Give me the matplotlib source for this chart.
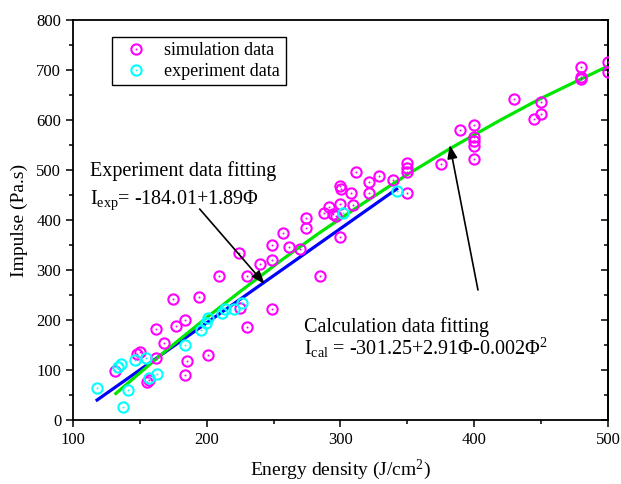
import matplotlib
matplotlib.use("Agg")
import matplotlib.pyplot as plt
from matplotlib.legend_handler import HandlerTuple

plt.rcParams["font.family"] = ["Liberation Serif", "DejaVu Serif"]
plt.rcParams["mathtext.fontset"] = "custom"
plt.rcParams["mathtext.rm"] = "Liberation Serif"
plt.rcParams["mathtext.it"] = "Liberation Serif:italic"

# simulation data (magenta)
sim_x = [131.5, 148, 150, 155, 157, 162, 162, 168, 177, 184, 183.5, 185, 174.5,
         194, 201, 209.5, 224, 225, 230, 230, 240, 249, 249, 249, 257, 261.5,
         270, 274.5, 274.5, 285, 287.5, 291.5, 294.5, 296.5, 299.5, 299.5, 300,
         300.5, 307.5, 309.5, 311.5, 321, 321, 329, 339.5, 350, 350, 350, 350,
         375, 389.5, 400, 400, 400, 400, 400, 429.5, 445, 450, 450, 480, 480,
         480, 500, 500]
sim_y = [98, 133, 137, 77, 80, 125, 183, 155, 188, 200, 90, 118, 242,
         247, 131, 289, 335, 224, 186, 289, 312, 350, 321, 222, 374, 346,
         342, 404, 384, 289, 414, 426, 413, 408, 366, 433, 468,
         462, 454, 430, 495, 476, 455, 488, 479, 514, 503, 495, 455,
         511, 579, 590, 565, 558, 547, 522, 641, 601, 635, 612, 705, 685,
         681, 715, 695]

# experiment data (cyan)
exp_x = [118, 137, 141, 134, 136, 146, 154.5, 157, 163, 183.5, 195.5, 199.5,
         201, 211.5, 214, 220.5, 226.5, 301.5, 342]
exp_y = [64, 27, 60, 106, 112, 121, 124, 85, 92, 151, 181, 195,
         204, 215, 222, 222, 234, 414, 459]

# fitted lines
fit_exp_x = [118, 342]
fit_exp_y = [40, 462]
fit_cal_x = [132, 170, 200, 225, 255, 283, 315, 350, 382, 419, 449, 480, 501]
fit_cal_y = [53, 140, 205, 257, 318, 372, 430, 491, 543, 599, 642, 682, 709]

fig = plt.figure(figsize=(6.21, 4.84), dpi=100)
ax = fig.add_axes([0.1176, 0.1322, 0.8614, 0.8265])

ax.plot(fit_exp_x, fit_exp_y, color="#0000ff", lw=2.3, zorder=2)
ax.plot(fit_cal_x, fit_cal_y, color="#00e600", lw=2.3, zorder=2,
        solid_joinstyle="round")

ms = 7.4
s1, = ax.plot(sim_x, sim_y, ls="none", marker="o", ms=ms, mfc="none",
              mec="#ff00ff", mew=1.5, zorder=3)
s2, = ax.plot(sim_x, sim_y, ls="none", marker="o", ms=1.4, color="#ff00ff",
              mew=0, zorder=3)
e1, = ax.plot(exp_x, exp_y, ls="none", marker="o", ms=ms, mfc="none",
              mec="#00ffff", mew=1.5, zorder=4)
e2, = ax.plot(exp_x, exp_y, ls="none", marker="o", ms=1.4, color="#00ffff",
              mew=0, zorder=4)

ax.set_xlim(100, 500)
ax.set_ylim(0, 800)
ax.set_xticks([100, 200, 300, 400, 500])
ax.set_xticks(range(150, 500, 100), minor=True)
ax.set_yticks(range(0, 801, 100))
ax.set_yticks(range(50, 800, 100), minor=True)
ax.tick_params(axis="both", which="major", labelsize=12, length=5, width=1.1,
               direction="out")
ax.tick_params(axis="both", which="minor", length=3, width=1.1, direction="out")
for sp in ax.spines.values():
    sp.set_linewidth(1.3)

# mirrored right axis with inward ticks
ax2 = ax.secondary_yaxis("right")
ax2.set_yticks(range(0, 801, 100))
ax2.set_yticks(range(50, 800, 100), minor=True)
ax2.tick_params(which="major", direction="in", length=5, width=1.1,
                labelright=False)
ax2.tick_params(which="minor", direction="in", length=3, width=1.1)
ax2.spines["right"].set_linewidth(1.3)

ax.set_xlabel("Energy density (J/cm$^{2}$)", fontsize=14, labelpad=7)
ax.set_ylabel("Impulse (Pa.s)", fontsize=14, labelpad=6)

ax.legend([(s1, s2), (e1, e2)], ["simulation data", "experiment data"],
          handler_map={tuple: HandlerTuple(ndivide=1)},
          loc="upper left", bbox_to_anchor=(0.073, 0.9575), borderaxespad=0,
          fontsize=13, frameon=True, fancybox=False, edgecolor="black",
          framealpha=1, handletextpad=0.6, borderpad=0.3, labelspacing=0.2)
ax.get_legend().get_frame().set_linewidth(1.0)

ax.text(112.5, 488, "Experiment data fitting", fontsize=14.5, va="baseline")
ax.text(112.5, 433, "I$_{\\rm exp}$= -184.01+1.89\u03a6", fontsize=14.5,
        va="baseline")
ax.text(272.5, 177, "Calculation data fitting", fontsize=14.5, va="baseline")
ax.text(272.5, 130, "I$_{\\rm cal}$ = -301.25+2.91\u03a6-0.002\u03a6$^{2}$",
        fontsize=14.5, va="baseline")

arrow = dict(arrowstyle="-|>,head_length=0.8,head_width=0.3", color="black",
             lw=1.2, shrinkA=0, shrinkB=0)
ax.annotate("", xy=(243.3, 272), xytext=(194.7, 422), arrowprops=arrow)
ax.annotate("", xy=(381.7, 550), xytext=(402.8, 260), arrowprops=arrow)

fig.savefig("out.png", dpi=100)
